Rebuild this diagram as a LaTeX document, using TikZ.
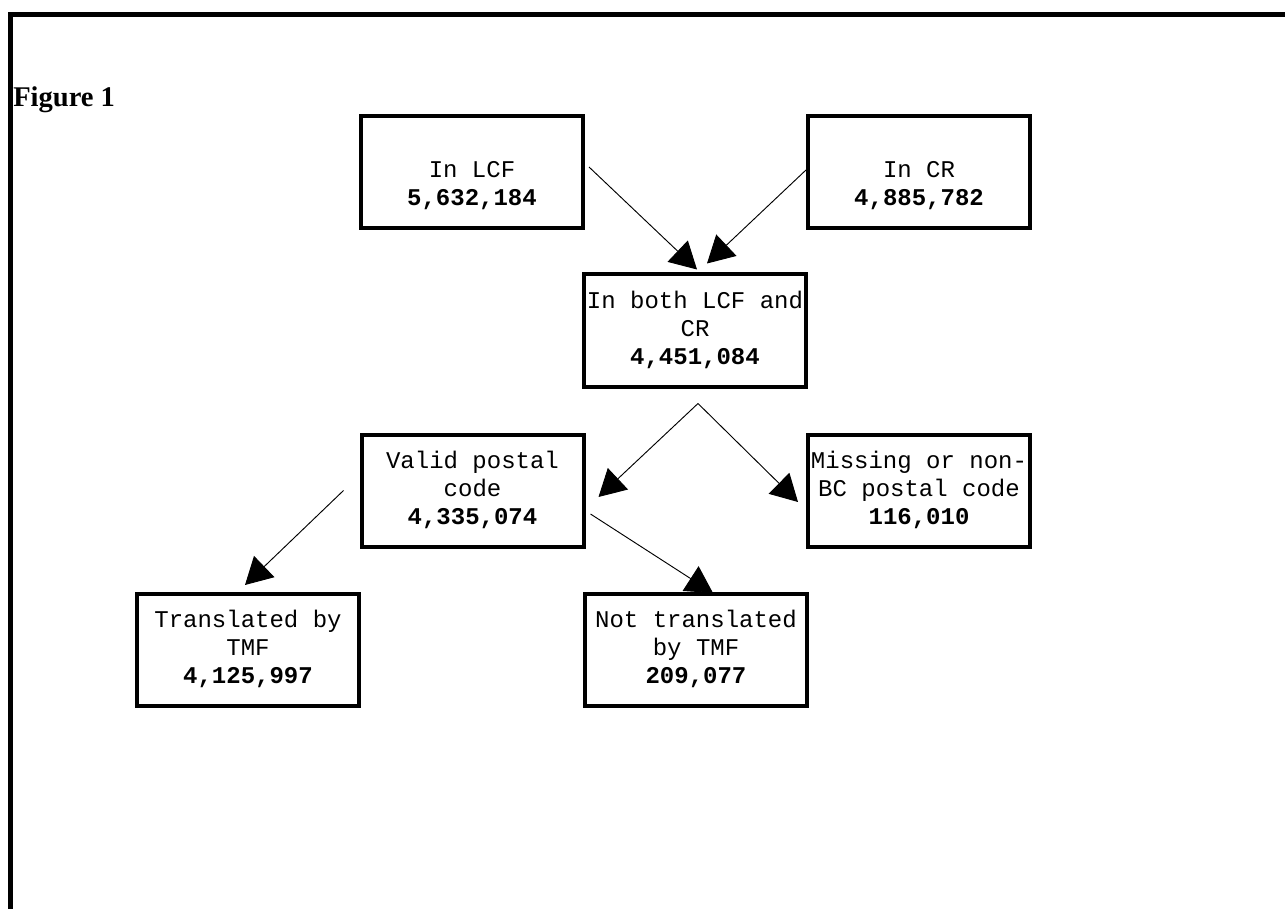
\documentclass[tikz,border=0pt]{standalone}
\usepackage{fontspec}
\setmainfont{Liberation Serif}
\setmonofont{Liberation Mono}
\usetikzlibrary{arrows.meta,calc}
\tikzset{
  box/.style={draw, line width=3pt, minimum width=166.5pt, minimum height=84pt,
    inner sep=0pt, align=center, font=\ttfamily\fontsize{18}{21}\selectfont},
  conn/.style={line width=0.7pt, -{Triangle[length=20pt,width=22pt]}},
  frame/.style={line width=3.75pt, line join=miter}
}
\newcommand{\bx}[1]{\strut\textbf{#1}\strut}
\begin{document}
\begin{tikzpicture}[x=0.75pt, y=-0.75pt]
\useasboundingbox (0,0) rectangle (1285,909);
\coordinate (fa) at (10.5,909);
\coordinate (fb) at (10.5,14.5);
\coordinate (fc) at (1285,14.5);
\draw[frame] (fa) -- (fb) -- (fc);
\node[anchor=base west, inner sep=0pt, font=\bfseries\fontsize{21.4}{24}\selectfont] (fig) at (13,107) {Figure 1};

\node[box] (lcf) at (472,172) {\strut\\In LCF\\\bx{5,632,184}};
\node[box] (cr) at (919,172) {\strut\\In CR\\\bx{4,885,782}};
\node[box] (both) at (695,330.5) {\strut In both LCF and\\CR\\\bx{4,451,084}};
\node[box] (valid) at (472.5,490.5) {\strut Valid postal\\code\\\bx{4,335,074}};
\node[box] (miss) at (919,490.5) {\strut Missing or non-\\BC postal code\\\bx{116,010}};
\node[box] (trans) at (248,650) {\strut Translated by\\TMF\\\bx{4,125,997}};
\node[box] (nottr) at (696,650) {\strut Not translated\\by TMF\\\bx{209,077}};

\draw[conn] ($(lcf.east)+(4,-5)$) -- ($(both.north)+(2,-3)$);
\draw[conn] ($(cr.west)+(0,-2)$) -- ($(both.north)+(12,-9)$);
\draw[conn] ($(both.south)+(3,15)$) -- ($(valid.east)+(13,6.5)$);
\draw[conn] ($(both.south)+(3,15)$) -- ($(miss.west)+(-8,11.5)$);
\draw[conn] ($(valid.west)+(-16,0)$) -- ($(trans.north)+(-3,-7)$);
\draw[conn] ($(valid.east)+(5,23.5)$) -- ($(nottr.north)+(17,1)$);
\end{tikzpicture}
\end{document}
